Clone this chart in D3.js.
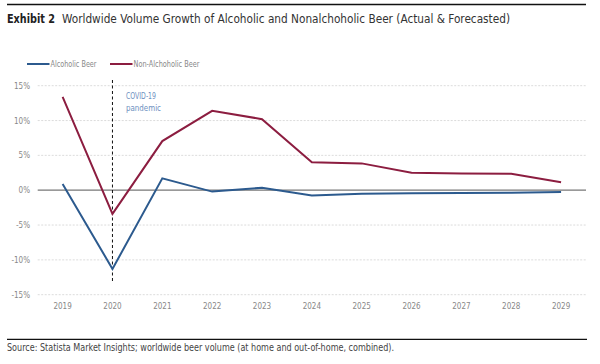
<!DOCTYPE html>
<html><head><meta charset="utf-8">
<script src="https://cdn.jsdelivr.net/npm/d3@7"></script>
<style>
body{margin:0;background:#fff;}
svg{display:block;font-family:"DejaVu Sans Condensed","Liberation Sans Narrow","Roboto",sans-serif;}
</style></head>
<body><svg id="c" width="600" height="364"></svg>
<script>
const years = ["2019","2020","2021","2022","2023","2024","2025","2026","2027","2028","2029"];
const alcoholic = [0.9,-11.3,1.7,-0.2,0.35,-0.75,-0.5,-0.45,-0.4,-0.35,-0.25];
const nonAlcoholic = [13.4,-3.4,7.05,11.4,10.2,4.0,3.85,2.5,2.4,2.35,1.15];
const yTicks = [15,10,5,0,-5,-10,-15];
const seriesNames = ["Alcoholic Beer","Non-Alchoholic Beer"];
const colors = ["#2c5a8e","#8c1d40"];

const svg = d3.select("#c");
const x = d3.scalePoint().domain(years).range([37.7,586]).padding(0.5);
const y = d3.scaleLinear().domain([-15,15]).range([294.7,85.7]);

// top rule & title
svg.append("line").attr("x1",7).attr("x2",586).attr("y1",4.5).attr("y2",4.5).attr("stroke","#111").attr("stroke-width",1.6);
svg.append("text").attr("x",7).attr("y",23).attr("font-size",12).attr("fill","#222")
  .attr("font-weight","bold").attr("textLength",48).attr("lengthAdjust","spacingAndGlyphs").text("Exhibit 2");
svg.append("text").attr("x",62).attr("y",23).attr("font-size",12).attr("fill","#333")
  .attr("textLength",448).attr("lengthAdjust","spacingAndGlyphs")
  .text("Worldwide Volume Growth of Alcoholic and Nonalchoholic Beer (Actual & Forecasted)");

// grid
const g = svg.append("g");
yTicks.forEach(v=>{
  g.append("line").attr("x1",37.7).attr("x2",586).attr("y1",y(v)).attr("y2",y(v))
   .attr("stroke", v===0?"#777":"#d8d8d8").attr("stroke-width",v===0?1.2:0.9)
   .attr("stroke-dasharray", v===0?null:"2,1.5");
  g.append("text").attr("x",30).attr("y",y(v)+3).attr("text-anchor","end")
   .attr("font-size",8).attr("fill","#888").text(v+"%");
});
years.forEach(yr=>{
  g.append("text").attr("x",x(yr)).attr("y",309).attr("text-anchor","middle")
   .attr("font-size",8).attr("fill","#888").text(yr);
});

// dashed covid line
svg.append("line").attr("x1",x("2020")).attr("x2",x("2020")).attr("y1",80).attr("y2",282)
  .attr("stroke","#111").attr("stroke-width",1).attr("stroke-dasharray","3,2.5");
svg.append("text").attr("x",126).attr("y",98.5).attr("font-size",9).attr("fill","#6d8fc0")
  .attr("textLength",30).attr("lengthAdjust","spacingAndGlyphs").text("COVID-19");
svg.append("text").attr("x",126).attr("y",111).attr("font-size",9).attr("fill","#6d8fc0")
  .attr("textLength",35).attr("lengthAdjust","spacingAndGlyphs").text("pandemic");

// lines
const line = d3.line().x((d,i)=>x(years[i])).y(d=>y(d));
[alcoholic,nonAlcoholic].forEach((s,i)=>{
  svg.append("path").datum(s).attr("d",line).attr("fill","none")
    .attr("stroke",colors[i]).attr("stroke-width",2).attr("stroke-linejoin","miter");
});

// legend
const legX = [27,110];
const legW = [46,66];
seriesNames.forEach((n,i)=>{
  svg.append("line").attr("x1",legX[i]).attr("x2",legX[i]+22.5).attr("y1",64).attr("y2",64)
    .attr("stroke",colors[i]).attr("stroke-width",2);
  svg.append("text").attr("x",legX[i]+23.5).attr("y",67).attr("font-size",8).attr("fill","#888")
    .attr("textLength",legW[i]).attr("lengthAdjust","spacingAndGlyphs").text(n);
});

// bottom
svg.append("line").attr("x1",7).attr("x2",587).attr("y1",339.3).attr("y2",339.3).attr("stroke","#111").attr("stroke-width",1.2);
svg.append("text").attr("x",7).attr("y",351).attr("font-size",9.6).attr("fill","#444")
  .attr("textLength",387).attr("lengthAdjust","spacingAndGlyphs")
  .text("Source: Statista Market Insights; worldwide beer volume (at home and out-of-home, combined).");
</script></body></html>
